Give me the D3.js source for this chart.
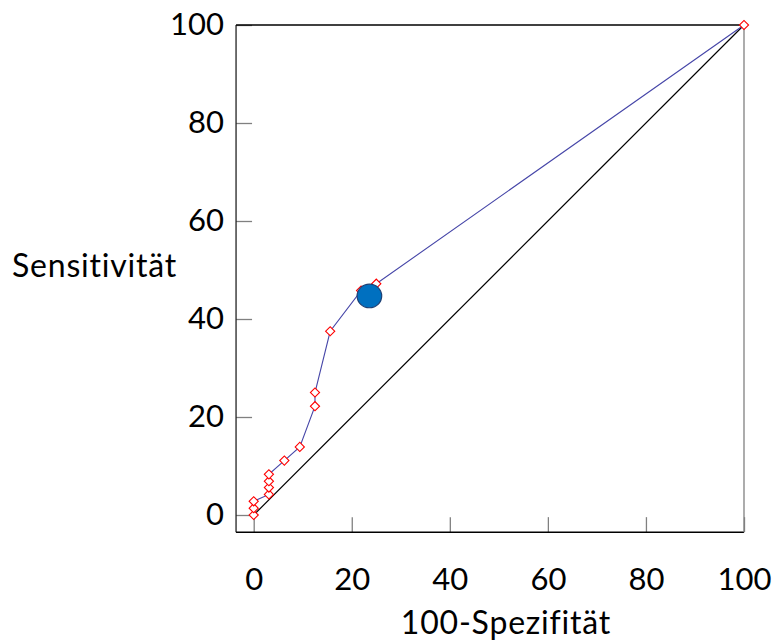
<!DOCTYPE html>
<html>
<head>
<meta charset="utf-8">
<script src="https://cdn.jsdelivr.net/npm/d3@7"></script>
<style>
  html, body { margin: 0; padding: 0; background: #fff; }
  svg { display: block; }
  text { font-family: Lato, "Open Sans", sans-serif; fill: #000; font-variant-ligatures: none; font-feature-settings: "liga" 0; }
</style>
</head>
<body>
<svg id="chart" width="778" height="644"></svg>
<script>
// ---- data ----
const fpr = [0, 0, 0, 3.1, 3.1, 3.1, 3.1, 6.25, 9.4, 12.5, 12.5, 15.6, 21.9, 25, 100];
const tpr = [0, 1.4, 2.8, 4.2, 5.6, 6.9, 8.3, 11.1, 13.9, 22.2, 25, 37.5, 45.8, 47.2, 100];
const cutoffPoint = [23.6, 44.7];
const diagonal = [[0, 0], [100, 100]];
const xTicks = [0, 20, 40, 60, 80, 100];
const yTicks = [0, 20, 40, 60, 80, 100];
const xLabel = "100-Spezifität";
const yLabel = "Sensitivität";

// ---- layout ----
(function () {
const svg = d3.select("#chart");
const x = d3.scaleLinear().domain([0, 100]).range([253.7, 744]);
const y = d3.scaleLinear().domain([0, 100]).range([515, 25]);
const fLeft = x(-3.6), fRight = x(100), fTop = y(100), fBottom = y(-3.5);

// axes (ticks pointing inward)
const xAxis = d3.axisBottom(x).tickValues(xTicks).tickFormat(d3.format("d"))
  .tickSizeInner(-15).tickSizeOuter(0).tickPadding(36);
const yAxis = d3.axisLeft(y).tickValues(yTicks).tickFormat(d3.format("d"))
  .tickSizeInner(-16).tickSizeOuter(0).tickPadding(12);

const gx = svg.append("g").attr("transform", `translate(0,${fBottom})`).call(xAxis);
const gy = svg.append("g").attr("transform", `translate(${fLeft},0)`).call(yAxis);
[gx, gy].forEach(g => {
  g.select(".domain").remove();
  g.selectAll(".tick line").attr("stroke", "#808080").attr("stroke-width", 1.3);
  g.selectAll(".tick text").style("font-size", "31px").style("font-family", "Lato, sans-serif").attr("fill", "#000");
});

// frame
svg.append("line").attr("x1", fLeft).attr("x2", fLeft).attr("y1", fTop).attr("y2", fBottom).attr("stroke", "#222").attr("stroke-width", 1.3);
svg.append("line").attr("x1", fLeft).attr("x2", fRight).attr("y1", fBottom).attr("y2", fBottom).attr("stroke", "#000").attr("stroke-width", 1.5);
svg.append("line").attr("x1", fLeft).attr("x2", fRight).attr("y1", fTop).attr("y2", fTop).attr("stroke", "#000").attr("stroke-width", 1.3);
svg.append("line").attr("x1", fRight).attr("x2", fRight).attr("y1", fTop).attr("y2", fBottom).attr("stroke", "#808080").attr("stroke-width", 1.3);

// diagonal reference line
svg.append("path")
  .attr("d", d3.line().x(d => x(d[0])).y(d => y(d[1]))(diagonal))
  .attr("fill", "none").attr("stroke", "#000").attr("stroke-width", 1.2);

// ROC curve
const pts = fpr.map((v, i) => [v, tpr[i]]);
svg.append("path")
  .attr("d", d3.line().x(d => x(d[0])).y(d => y(d[1]))(pts))
  .attr("fill", "none").attr("stroke", "#4646a8").attr("stroke-width", 1.1);

// diamond markers
const diamond = d3.symbol().type(d3.symbolSquare).size(42);
svg.append("g").selectAll("path").data(pts).join("path")
  .attr("d", diamond)
  .attr("transform", d => `translate(${x(d[0])},${y(d[1])}) rotate(45)`)
  .attr("fill", "#fff").attr("stroke", "#ff0000").attr("stroke-width", 1.1);

// cutoff marker
svg.append("ellipse")
  .attr("cx", x(cutoffPoint[0])).attr("cy", y(cutoffPoint[1]))
  .attr("rx", 12.3).attr("ry", 11.8)
  .attr("fill", "#0070C0").attr("stroke", "#1d3f73").attr("stroke-width", 1.2);

// axis titles
svg.append("text").attr("x", 12).attr("y", 277).style("font-size", "32px").style("letter-spacing", "0.8px").text(yLabel);
svg.append("text").attr("x", 506).attr("y", 634).attr("text-anchor", "middle").style("font-size", "32px").style("letter-spacing", "0.8px").text(xLabel);
})();
</script>
</body>
</html>
